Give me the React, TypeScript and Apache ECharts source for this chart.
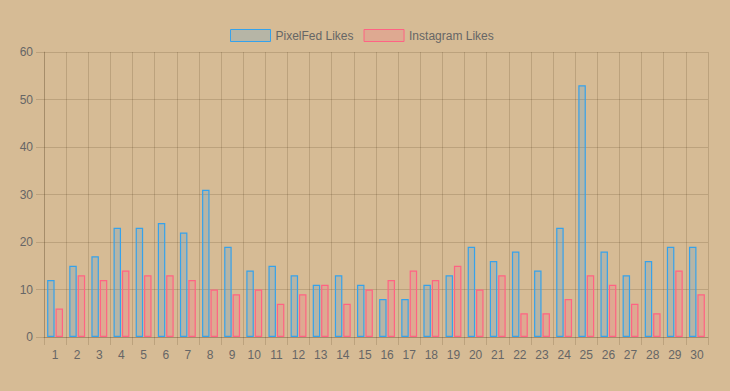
import React, { useEffect, useRef } from "react";
import * as echarts from "echarts";

const categories = Array.from({ length: 30 }, (_, i) => String(i + 1));
const pixelfedLikes = [12, 15, 17, 23, 23, 24, 22, 31, 19, 14, 15, 13, 11, 13, 11, 8, 8, 11, 13, 19, 16, 18, 14, 23, 53, 18, 13, 16, 19, 19];
const instagramLikes = [6, 13, 12, 14, 13, 13, 12, 10, 9, 10, 7, 9, 11, 7, 10, 12, 14, 12, 15, 10, 13, 5, 5, 8, 13, 11, 7, 5, 14, 9];
const seriesNames = ["PixelFed Likes", "Instagram Likes"];

const FONT = "'Liberation Sans', Arial, Helvetica, sans-serif";
const GRID = "rgba(60,40,10,0.17)";

export default function App() {
  const ref = useRef<HTMLDivElement>(null);
  useEffect(() => {
    if (!ref.current) return;
    const chart = echarts.init(ref.current, undefined, { renderer: "svg" });
    chart.setOption({
      animation: false,
      backgroundColor: "#d6bb95",
      textStyle: { fontFamily: FONT },
      legend: {
        top: 24,
        left: 225,
        itemWidth: 40,
        itemHeight: 12,
        itemGap: 10,
        icon: "rect",
        itemStyle: { borderWidth: 1 },
        textStyle: { color: "#666", fontSize: 12, fontFamily: FONT },
        data: seriesNames,
      },
      grid: { left: 44, right: 22, top: 52, bottom: 54, containLabel: false },
      xAxis: {
        type: "category",
        data: categories,
        boundaryGap: true,
        axisLine: { show: true, lineStyle: { color: GRID, width: 1 } },
        axisTick: { show: true, length: 8, lineStyle: { color: GRID } },
        axisLabel: { color: "#666", fontSize: 12, margin: 12, fontFamily: FONT, interval: 0 },
        splitLine: { show: true, lineStyle: { color: GRID, width: 1 } },
      },
      yAxis: {
        type: "value",
        min: 0,
        max: 60,
        interval: 10,
        axisLine: { show: true, lineStyle: { color: GRID, width: 1 } },
        axisTick: { show: true, length: 8, lineStyle: { color: GRID } },
        axisLabel: { color: "#666", fontSize: 12, margin: 11, fontFamily: FONT },
        splitLine: { show: true, lineStyle: { color: GRID, width: 1 } },
      },
      series: [
        {
          name: seriesNames[0],
          type: "bar",
          data: pixelfedLikes,
          barWidth: 7.5,
          barGap: "12%",
          itemStyle: { color: "rgba(54,162,235,0.2)", borderColor: "rgb(54,162,235)", borderWidth: 1.2 },
        },
        {
          name: seriesNames[1],
          type: "bar",
          data: instagramLikes,
          barWidth: 7.5,
          itemStyle: { color: "rgba(255,99,132,0.2)", borderColor: "rgb(255,99,132)", borderWidth: 1.2 },
        },
      ],
    });
    return () => chart.dispose();
  }, []);
  return (
    <div
      ref={ref}
      style={{ position: "fixed", left: 0, top: 0, width: 730, height: 391 }}
    />
  );
}
